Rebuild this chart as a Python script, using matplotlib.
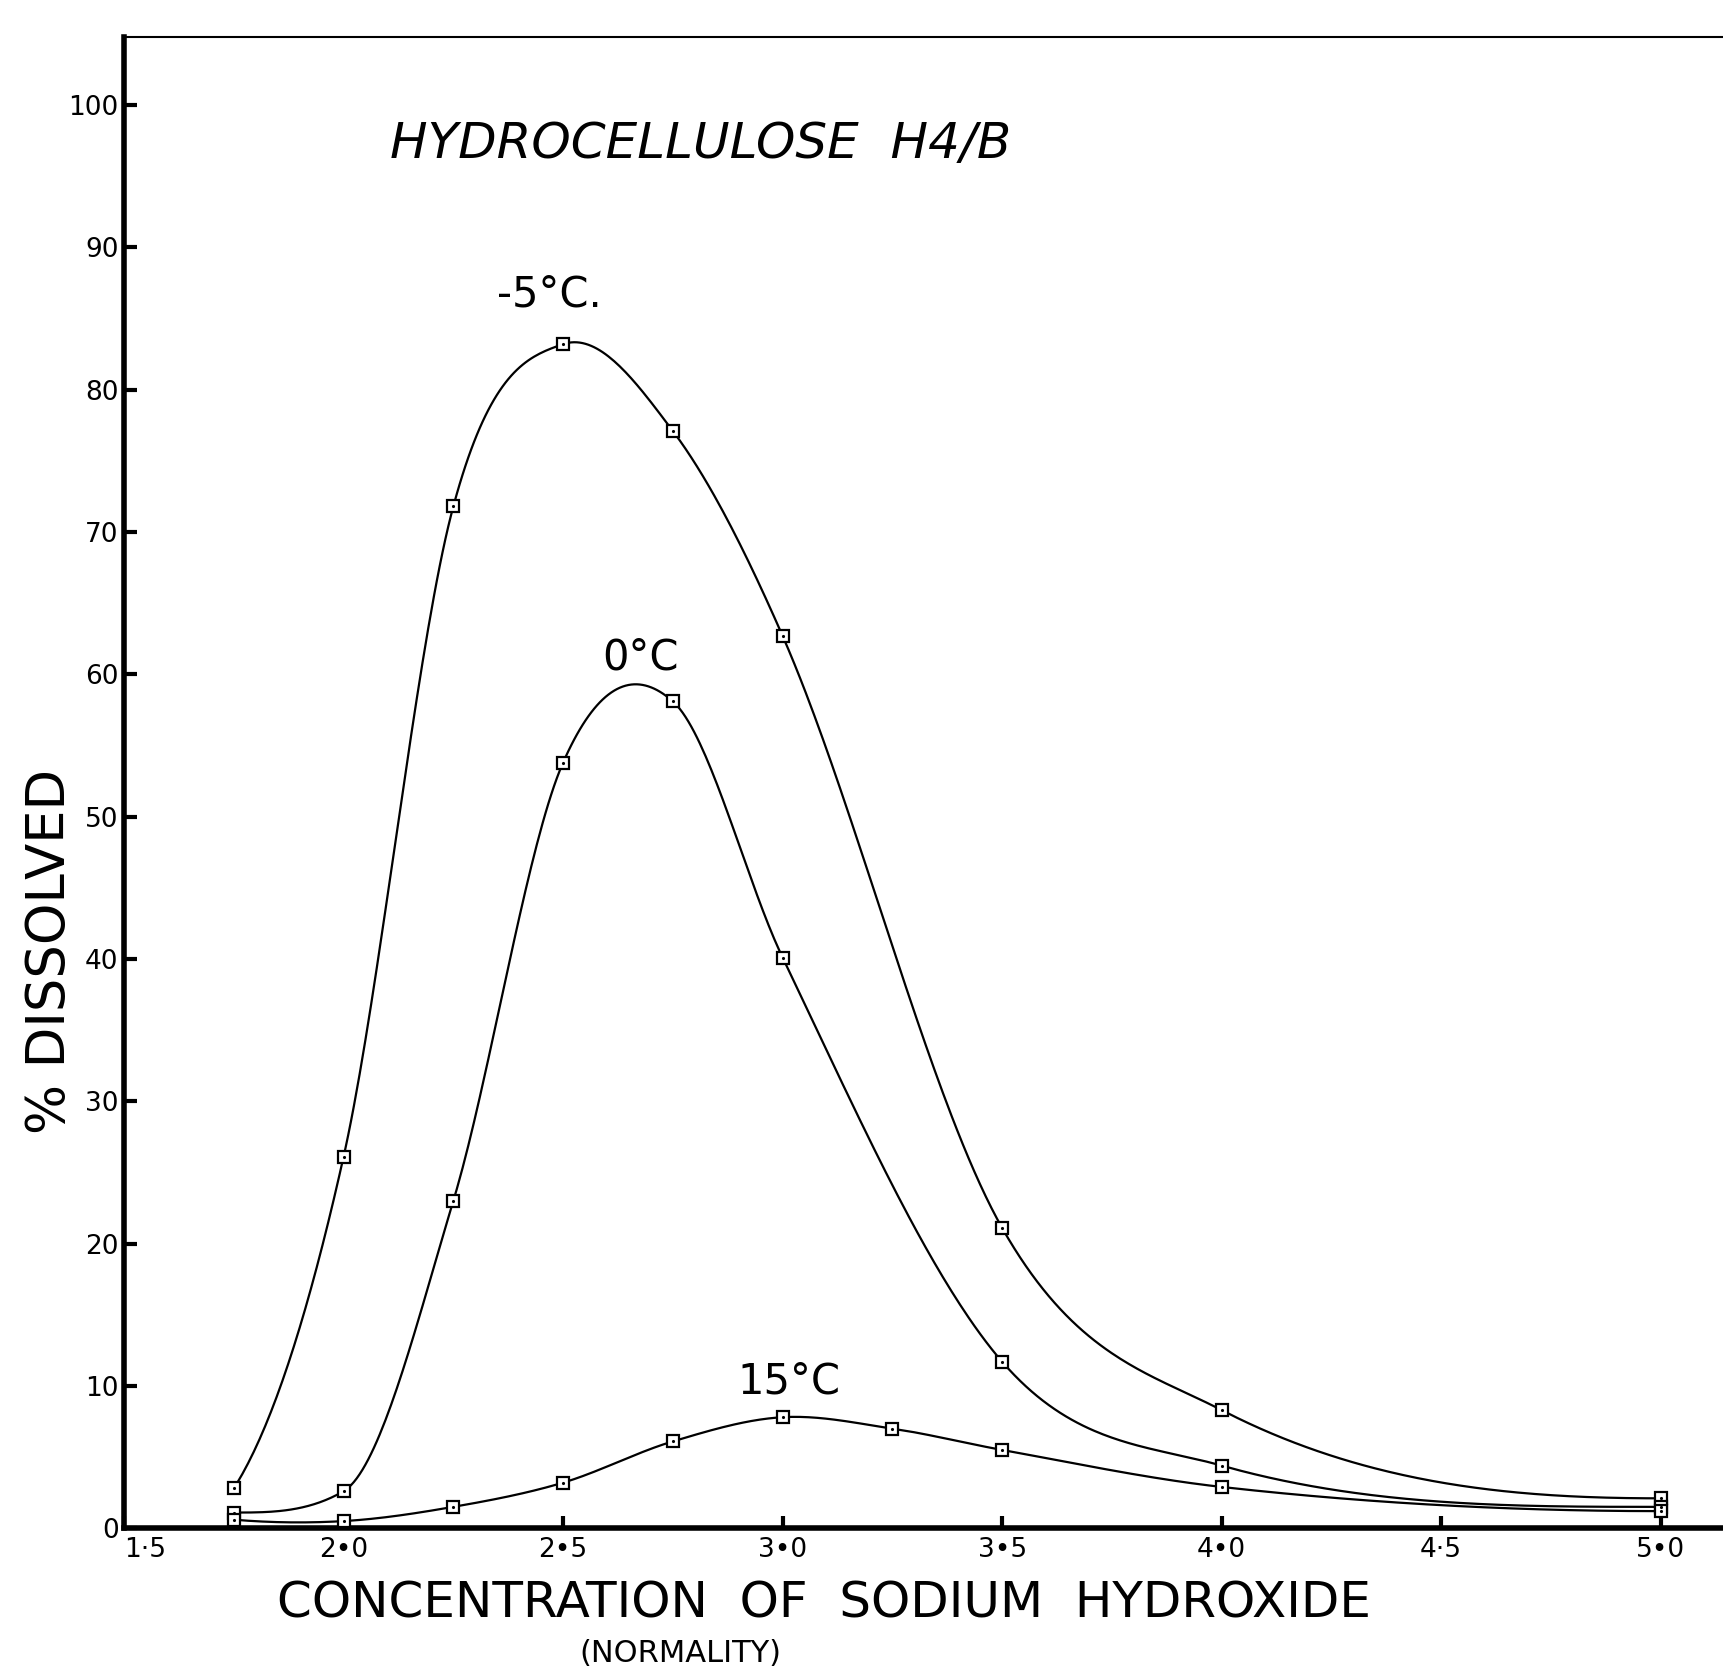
import matplotlib
matplotlib.use('Agg')
import matplotlib.pyplot as plt
import numpy as np

# values
conc_cold = [1.75, 2.0, 2.25, 2.5, 2.75, 3.0, 3.5, 4.0, 5.0]
pct_minus5 = [2.8, 26.1, 71.8, 83.2, 77.1, 62.7, 21.1, 8.3, 2.1]

conc_zero = [1.75, 2.0, 2.25, 2.5, 2.75, 3.0, 3.5, 4.0, 5.0]
pct_zero = [1.1, 2.6, 23.0, 53.8, 58.1, 40.1, 11.7, 4.4, 1.5]

conc_15 = [1.75, 2.0, 2.25, 2.5, 2.75, 3.0, 3.25, 3.5, 4.0, 5.0]
pct_15 = [0.6, 0.5, 1.5, 3.2, 6.1, 7.8, 7.0, 5.5, 2.9, 1.2]

xticks = [1.5, 2.0, 2.5, 3.0, 3.5, 4.0, 4.5, 5.0]
xticklabels = ['1·5', '2•0', '2•5', '3•0', '3•5', '4•0', '4·5', '5•0']
yticks = [0, 10, 20, 30, 40, 50, 60, 70, 80, 90, 100]

FONT = 'DejaVu Sans'


def smooth(x, y, n=500):
    # catmull-rom style hermite curve through the points (french curve look)
    x = np.asarray(x, float)
    y = np.asarray(y, float)
    h = np.diff(x)
    d = np.diff(y) / h
    m = np.zeros(len(x))
    cr = (y[2:] - y[:-2]) / (x[2:] - x[:-2])
    tp = (h[1:] * d[:-1] + h[:-1] * d[1:]) / (h[:-1] + h[1:])
    m[1:-1] = 0.5 * (cr + tp)
    m[0] = ((2 * h[0] + h[1]) * d[0] - h[0] * d[1]) / (h[0] + h[1])
    if np.sign(m[0]) != np.sign(d[0]):
        m[0] = 0
    m[-1] = ((2 * h[-1] + h[-2]) * d[-1] - h[-1] * d[-2]) / (h[-1] + h[-2])
    if np.sign(m[-1]) != np.sign(d[-1]):
        m[-1] = 0
    # keep monotone stretches from overshooting
    for k in range(len(d)):
        if d[k] == 0:
            continue
        a = m[k] / d[k]
        b = m[k + 1] / d[k]
        if a >= 0 and b >= 0 and a * a + b * b > 9:
            t = 3 / np.sqrt(a * a + b * b)
            m[k] = t * a * d[k]
            m[k + 1] = t * b * d[k]
    xs = np.linspace(x[0], x[-1], n)
    idx = np.clip(np.searchsorted(x, xs) - 1, 0, len(h) - 1)
    t = (xs - x[idx]) / h[idx]
    h00 = 2 * t**3 - 3 * t**2 + 1
    h10 = t**3 - 2 * t**2 + t
    h01 = -2 * t**3 + 3 * t**2
    h11 = t**3 - t**2
    ys = h00 * y[idx] + h10 * h[idx] * m[idx] + h01 * y[idx + 1] + h11 * h[idx] * m[idx + 1]
    return xs, ys


fig = plt.figure(figsize=(17.23, 16.72), dpi=100)
ax = fig.add_axes([0.072, 0.086, 0.928, 0.892])

for cx, cy in [(conc_cold, pct_minus5), (conc_zero, pct_zero), (conc_15, pct_15)]:
    sx, sy = smooth(cx, cy)
    ax.plot(sx, sy, color='black', lw=1.6, zorder=2)
    ax.plot(cx, cy, ls='none', marker='s', ms=9, mfc='white', mec='black', mew=1.6, zorder=3)
    ax.plot(cx, cy, ls='none', marker='.', ms=2.5, color='black', zorder=4)

ax.set_xlim(1.5, 5.142)
ax.set_ylim(0, 104.8)

ax.spines['right'].set_visible(False)
ax.spines['left'].set_linewidth(4)
ax.spines['bottom'].set_linewidth(4)
ax.spines['top'].set_linewidth(1.5)

ax.set_xticks(xticks)
ax.set_xticklabels(xticklabels, fontsize=19, family=FONT)
ax.get_xticklabels()[0].set_horizontalalignment('left')
ax.set_yticks(yticks)
ax.set_yticklabels([str(v) for v in yticks], fontsize=19, family=FONT)
ax.tick_params(direction='in', length=9, width=3, pad=6)
ax.tick_params(axis='y', pad=4)

ax.text(2.106, 97.3, 'HYDROCELLULOSE  H4/B', fontsize=36, style='italic',
        family=FONT, fontweight='light', va='center', ha='left')
ax.text(2.469, 86.7, '-5°C.', fontsize=30, family=FONT, ha='center', va='center')
ax.text(2.676, 61.2, '0°C', fontsize=30, family=FONT, ha='center', va='center')
ax.text(3.014, 10.3, '15°C', fontsize=30, family=FONT, ha='center', va='center')

fig.text(0.029, 0.431, '% DISSOLVED', rotation=90, fontsize=38, family=FONT,
         ha='center', va='center')
fig.text(0.478, 0.041, 'CONCENTRATION  OF  SODIUM  HYDROXIDE', fontsize=36,
         family=FONT, ha='center', va='center')
fig.text(0.395, 0.011, '(NORMALITY)', fontsize=22, family=FONT,
         ha='center', va='center')

fig.savefig('out.png', dpi=100)
